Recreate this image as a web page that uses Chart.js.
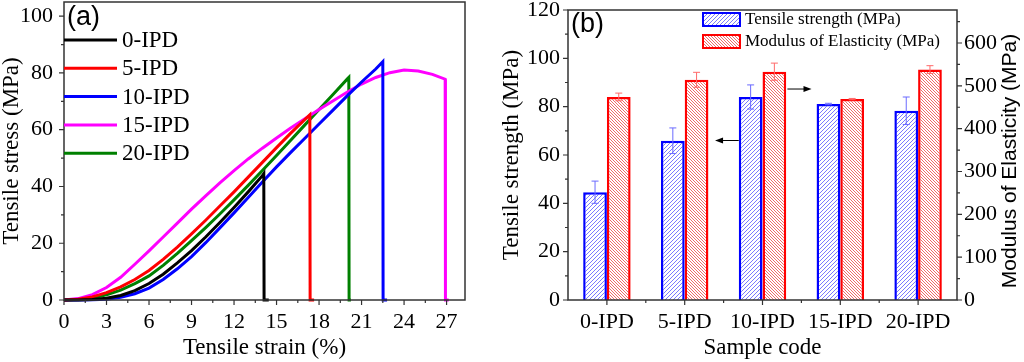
<!DOCTYPE html>
<html>
<head>
<meta charset="utf-8">
<script src="https://cdn.jsdelivr.net/npm/chart.js@4.4.0/dist/chart.umd.min.js"></script>
<style>
  html, body { margin: 0; padding: 0; background: #fff; }
  #wrap { position: relative; width: 1024px; height: 362px; overflow: hidden; }
  #chartA { position: absolute; left: 0; top: 0; }
  #chartB { position: absolute; left: 480px; top: 0; }
</style>
</head>
<body>
<div id="wrap">
  <canvas id="chartA" width="480" height="362"></canvas>
  <canvas id="chartB" width="544" height="362"></canvas>
</div>
<script>
// ---------- panel (a): stress-strain curves ----------
const seriesNames = ['0-IPD', '5-IPD', '10-IPD', '15-IPD', '20-IPD'];
const seriesColors = ['#000000', '#ff0000', '#0000ff', '#ff00ff', '#008000'];

const strain0 = [0, 1, 2, 3, 4, 5, 6, 7, 8, 9, 10, 11, 12, 13, 14, 14.1, 14.12, 14.45];
const stress0 = [0, 0, 0.15, 0.6, 1.6, 3.3, 5.8, 9.1, 13.1, 17.4, 22.2, 27.3, 32.6, 38.1, 43.8, 44.5, 0, 0];

const strain5 = [0, 1, 2, 3, 4, 5, 6, 7, 8, 9, 10, 11, 12, 13, 14, 15, 16, 17, 17.35, 17.37, 17.65];
const stress5 = [0, 0.3, 1.1, 2.6, 4.6, 7.2, 10.4, 14.3, 18.6, 23.3, 28.1, 33.1, 38.1, 43.3, 48.5, 53.7, 58.8, 63.6, 65.3, 0, 0];

const strain10 = [0, 1, 2, 3, 4, 5, 6, 7, 8, 9, 10, 11, 12, 13, 14, 15, 16, 17, 18, 19, 20, 21, 22, 22.5, 22.52, 22.8];
const stress10 = [0, 0, 0.05, 0.3, 1, 2.2, 4.2, 7.2, 11, 15.3, 20.2, 25.4, 30.7, 36.1, 41.6, 46.9, 52, 57, 62, 67, 72, 76.8, 81.4, 84, 0, 0];

const strain15 = [0, 1, 2, 3, 4, 5, 6, 7, 8, 9, 10, 11, 12, 13, 14, 15, 16, 17, 18, 19, 20, 21, 22, 23, 24, 25, 26, 26.9, 26.92, 27.15];
const stress15 = [0, 0.5, 1.9, 4.4, 8, 12.6, 17.3, 22.2, 27.1, 32, 36.7, 41.3, 45.6, 49.7, 53.5, 57.1, 60.6, 63.9, 67.1, 70.2, 73.3, 76.1, 78.4, 80.1, 81, 80.7, 79.5, 77.8, 0, 0];

const strain20 = [0, 1, 2, 3, 4, 5, 5.5, 6, 7, 8, 9, 10, 11, 12, 13, 14, 15, 16, 17, 18, 19, 20, 20.1, 20.12, 20.25];
const stress20 = [0, 0.2, 0.7, 1.8, 3.5, 5.8, 7.1, 8.5, 12.2, 16.4, 20.9, 25.5, 30.3, 35.3, 40.4, 45.6, 50.9, 56.3, 61.7, 67.1, 72.5, 77.9, 78.4, 0, 0];

const strainTicks = [0, 3, 6, 9, 12, 15, 18, 21, 24, 27];
const strainMinor = [1.5, 4.5, 7.5, 10.5, 13.5, 16.5, 19.5, 22.5, 25.5];
const stressTicks = [0, 20, 40, 60, 80, 100];
const stressMinor = [10, 30, 50, 70, 90];

// ---------- panel (b): bars ----------
const sampleCodes = ['0-IPD', '5-IPD', '10-IPD', '15-IPD', '20-IPD'];
const tensileStrength = [44.6, 65.9, 84.0, 81.1, 78.3];
const tensileErr = [4.6, 5.3, 5.0, 0.3, 5.7];
const modulus = [474, 514, 533, 469, 538];
const modulusErr = [9, 17.5, 20, 1.5, 9];

const strengthTicks = [0, 20, 40, 60, 80, 100, 120];
const strengthMinor = [10, 30, 50, 70, 90, 110];
const modulusTicks = [0, 100, 200, 300, 400, 500, 600];
const modulusMinor = [50, 150, 250, 350, 450, 550, 650];

// arrows: [x category position, value on left axis, x end]
const arrowLeft = [1.695, 66, 1.39];
const arrowRight = [2.32, 87.3, 2.63];

const serif = "'Liberation Serif', 'Times New Roman', serif";
const sans = "'Liberation Sans', Arial, sans-serif";
Chart.defaults.color = '#000';
Chart.defaults.font.family = serif;

// fixed axis box sizes so both panels line up with the picture
function fixBox(size) {
    return s => {
        if (s.isHorizontal()) s.height = size; else s.width = size;
        s.paddingTop = s.paddingBottom = s.paddingLeft = s.paddingRight = 0;
    };
}
function setTicks(values) {
    return s => { s.ticks = values.map(v => ({ value: v })); };
}

// pixel-exact diagonal hatch
function hatch(color, step, forward) {
    const c = document.createElement('canvas');
    c.width = c.height = step;
    const g = c.getContext('2d');
    g.fillStyle = '#fff';
    g.fillRect(0, 0, step, step);
    g.fillStyle = color;
    for (let y = 0; y < step; y++) {
        for (let x = 0; x < step; x++) {
            const k = forward ? (x + y) : (x - y + step);
            if (k % step === 0) g.fillRect(x, y, 1, 1);
        }
    }
    return g.createPattern(c, 'repeat');
}

// frame + outward tick marks (major and minor)
const framePlugin = {
    id: 'frame',
    afterDraw(chart, args, opts) {
        const { ctx, chartArea: a } = chart;
        ctx.save();
        ctx.strokeStyle = '#333';
        ctx.lineWidth = 1.5;
        ctx.strokeRect(a.left, a.top, a.right - a.left, a.bottom - a.top);
        ctx.lineWidth = 1.2;
        (opts.marks || []).forEach(m => {
            const sc = chart.scales[m.axis];
            ctx.beginPath();
            m.values.forEach(v => {
                const p = sc.getPixelForValue(v);
                if (sc.isHorizontal()) {
                    ctx.moveTo(p, a.bottom); ctx.lineTo(p, a.bottom + m.len);
                } else if (sc.position === 'right') {
                    ctx.moveTo(a.right, p); ctx.lineTo(a.right + m.len, p);
                } else {
                    ctx.moveTo(a.left, p); ctx.lineTo(a.left - m.len, p);
                }
            });
            ctx.stroke();
        });
        ctx.restore();
    }
};

const legendA = {
    id: 'legendA',
    afterDraw(chart) {
        const { ctx, chartArea: a } = chart;
        ctx.save();
        ctx.font = '27px ' + sans;
        ctx.textBaseline = 'middle';
        ctx.fillStyle = '#000';
        ctx.fillText('(a)', a.left + 3, 18);
        ctx.font = '23px ' + serif;
        chart.data.datasets.forEach((ds, i) => {
            const y = 40 + i * 28.3;
            ctx.strokeStyle = ds.borderColor;
            ctx.lineWidth = 3;
            ctx.beginPath();
            ctx.moveTo(a.left, y); ctx.lineTo(a.left + 53, y);
            ctx.stroke();
            ctx.fillText(ds.label, a.left + 58, y + 1);
        });
        ctx.restore();
    }
};

const curves = [
    [strain0, stress0], [strain5, stress5], [strain10, stress10], [strain15, stress15], [strain20, stress20]
];

new Chart(document.getElementById('chartA'), {
    type: 'scatter',
    data: {
        datasets: curves.map(([xs, ys], i) => ({
            label: seriesNames[i],
            data: xs.map((x, j) => ({ x: x, y: ys[j] })),
            showLine: true,
            borderColor: seriesColors[i],
            backgroundColor: seriesColors[i],
            borderWidth: 3,
            pointRadius: 0,
            tension: 0,
            clip: false
        }))
    },
    options: {
        responsive: false,
        animation: false,
        layout: { padding: { top: 2, right: 15, left: 0, bottom: 0 } },
        plugins: {
            legend: { display: false },
            tooltip: { enabled: false },
            frame: {
                marks: [
                    { axis: 'x', values: strainTicks, len: 5 },
                    { axis: 'x', values: strainMinor, len: 3 },
                    { axis: 'y', values: stressTicks, len: 5 },
                    { axis: 'y', values: stressMinor, len: 3 }
                ]
            }
        },
        scales: {
            x: {
                type: 'linear', min: 0, max: 28.3,
                grid: { display: false, drawTicks: false },
                border: { display: false },
                afterBuildTicks: setTicks(strainTicks),
                ticks: { padding: 9, font: { size: 22 }, maxRotation: 0, autoSkip: false },
                title: { display: true, text: 'Tensile strain (%)', font: { size: 23, lineHeight: 1 }, padding: { top: 0, bottom: 2.5 } },
                afterFit: fixBox(62)
            },
            y: {
                min: 0, max: 105,
                grid: { display: false, drawTicks: false },
                border: { display: false },
                afterBuildTicks: setTicks(stressTicks),
                ticks: { padding: 11, font: { size: 22 }, autoSkip: false },
                title: { display: true, text: 'Tensile stress (MPa)', font: { size: 23, lineHeight: 1 }, padding: { top: 0, bottom: 0 } },
                afterFit: fixBox(64)
            }
        }
    },
    plugins: [framePlugin, legendA]
});

const hatchBlue = hatch('#7a7aff', 4, true);
const hatchRed = hatch('#f06a6a', 3, false);

const errorBars = {
    id: 'errorBars',
    afterDatasetsDraw(chart) {
        const { ctx } = chart;
        chart.data.datasets.forEach((ds, di) => {
            const meta = chart.getDatasetMeta(di);
            const ys = chart.scales[ds.yAxisID];
            ctx.save();
            ctx.strokeStyle = ds.errColor;
            ctx.lineWidth = 1;
            meta.data.forEach((bar, i) => {
                const v = ds.data[i], e = ds.errors[i];
                const top = ys.getPixelForValue(v + e), bot = ys.getPixelForValue(v - e);
                ctx.beginPath();
                ctx.moveTo(bar.x, top); ctx.lineTo(bar.x, bot);
                ctx.moveTo(bar.x - 3.5, top); ctx.lineTo(bar.x + 3.5, top);
                ctx.moveTo(bar.x - 3.5, bot); ctx.lineTo(bar.x + 3.5, bot);
                ctx.stroke();
            });
            ctx.restore();
        });
    }
};

function arrow(ctx, x0, y, x1) {
    const dir = Math.sign(x1 - x0);
    ctx.beginPath();
    ctx.moveTo(x0, y); ctx.lineTo(x1 - dir * 6, y);
    ctx.stroke();
    ctx.beginPath();
    ctx.moveTo(x1, y); ctx.lineTo(x1 - dir * 8, y - 3); ctx.lineTo(x1 - dir * 8, y + 3);
    ctx.closePath();
    ctx.fill();
}

const annotB = {
    id: 'annotB',
    afterDraw(chart) {
        const { ctx, chartArea: a, scales } = chart;
        ctx.save();
        ctx.fillStyle = '#000';
        ctx.strokeStyle = '#000';
        ctx.lineWidth = 1;
        [arrowLeft, arrowRight].forEach(([x0, v, x1]) => {
            arrow(ctx, scales.x.getPixelForValue(x0), scales.y.getPixelForValue(v), scales.x.getPixelForValue(x1));
        });

        ctx.textBaseline = 'middle';
        ctx.font = '27px ' + sans;
        ctx.fillText('(b)', a.left + 3, 25);

        ctx.font = '17px ' + serif;
        chart.data.datasets.forEach((ds, i) => {
            const y = 12 + i * 22;
            ctx.fillStyle = ds.backgroundColor;
            ctx.fillRect(222, y, 39, 15);
            ctx.strokeStyle = ds.borderColor;
            ctx.lineWidth = 2;
            ctx.strokeRect(223, y + 1, 37, 13);
            ctx.fillStyle = '#000';
            ctx.fillText(ds.label, 265, y + 8);
        });

        ctx.font = '21px ' + sans;
        ctx.textAlign = 'center';
        ctx.translate(530, 161);
        ctx.rotate(-Math.PI / 2);
        ctx.fillText('Modulus of Elasticity (MPa)', 0, 0);
        ctx.restore();
    }
};

new Chart(document.getElementById('chartB'), {
    type: 'bar',
    data: {
        labels: sampleCodes,
        datasets: [
            {
                label: 'Tensile strength (MPa)', data: tensileStrength, yAxisID: 'y',
                backgroundColor: hatchBlue, borderColor: '#0000ff', borderWidth: 2.5,
                errors: tensileErr, errColor: '#6a6aff'
            },
            {
                label: 'Modulus of Elasticity (MPa)', data: modulus, yAxisID: 'y1',
                backgroundColor: hatchRed, borderColor: '#ff0000', borderWidth: 2.5,
                errors: modulusErr, errColor: '#ff6a6a'
            }
        ]
    },
    options: {
        responsive: false,
        animation: false,
        categoryPercentage: 0.61,
        barPercentage: 1,
        layout: { padding: { top: 10, right: 0, left: 0, bottom: 0 } },
        plugins: {
            legend: { display: false },
            tooltip: { enabled: false },
            frame: {
                marks: [
                    { axis: 'x', values: [0, 1, 2, 3, 4], len: 5 },
                    { axis: 'x', values: [0.5, 1.5, 2.5, 3.5], len: 3 },
                    { axis: 'y', values: strengthTicks, len: 5 },
                    { axis: 'y', values: strengthMinor, len: 3 },
                    { axis: 'y1', values: modulusTicks, len: 5 },
                    { axis: 'y1', values: modulusMinor, len: 3 }
                ]
            }
        },
        scales: {
            x: {
                grid: { display: false, drawTicks: false },
                border: { display: false },
                ticks: { padding: 9, font: { size: 22 }, maxRotation: 0, autoSkip: false },
                title: { display: true, text: 'Sample code', font: { size: 23, lineHeight: 1 }, padding: { top: 0, bottom: 2.5 } },
                afterFit: fixBox(62)
            },
            y: {
                position: 'left', min: 0, max: 120,
                grid: { display: false, drawTicks: false },
                border: { display: false },
                afterBuildTicks: setTicks(strengthTicks),
                ticks: { padding: 8, font: { size: 22 }, autoSkip: false },
                title: { display: true, text: 'Tensile strength (MPa)', font: { size: 23, lineHeight: 1 }, padding: { top: 20, bottom: 0 } },
                afterFit: fixBox(88)
            },
            y1: {
                position: 'right', min: 0, max: 677,
                grid: { display: false, drawTicks: false },
                border: { display: false },
                afterBuildTicks: setTicks(modulusTicks),
                ticks: { padding: 7, font: { size: 22 }, autoSkip: false },
                afterFit: fixBox(67)
            }
        }
    },
    plugins: [errorBars, framePlugin, annotB]
});
</script>
</body>
</html>
